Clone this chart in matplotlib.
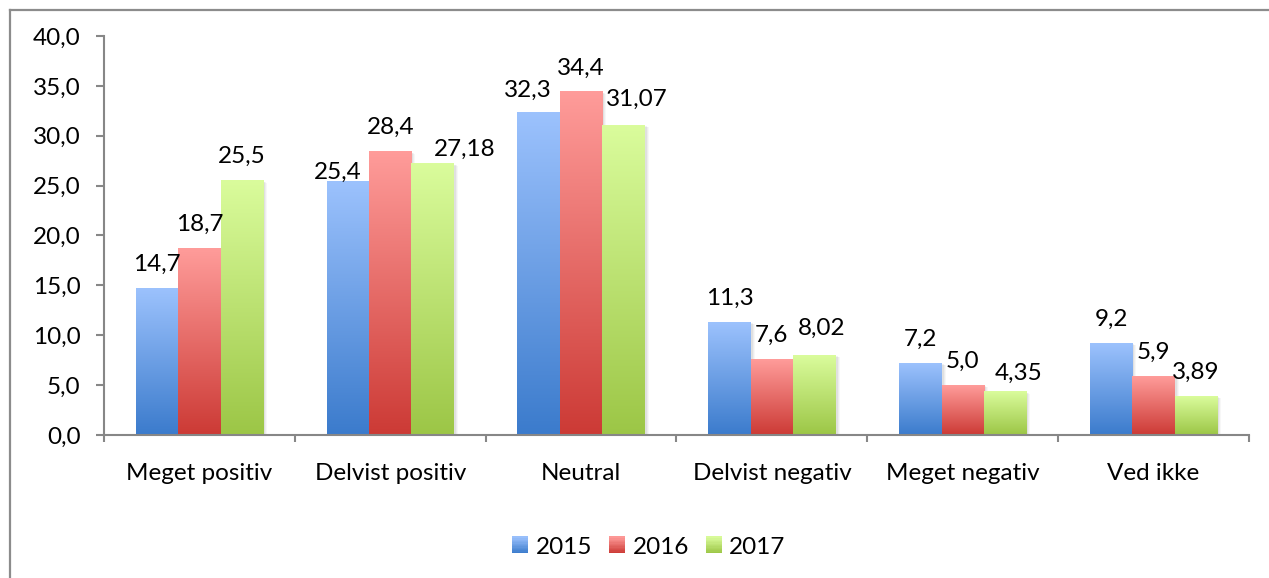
import numpy as np
import matplotlib
matplotlib.use("Agg")
import matplotlib.pyplot as plt
from matplotlib.colors import LinearSegmentedColormap
from matplotlib.patches import Rectangle
from matplotlib.lines import Line2D
from matplotlib.legend_handler import HandlerBase
from matplotlib.ticker import FuncFormatter
import matplotlib.transforms as mtransforms

plt.rcParams['font.family'] = ['Lato', 'DejaVu Sans']

categories = ['Meget positiv', 'Delvist positiv', 'Neutral', 'Delvist negativ', 'Meget negativ', 'Ved ikke']
years = ['2015', '2016', '2017']
v2015 = [14.7, 25.4, 32.3, 11.3, 7.2, 9.2]
v2016 = [18.7, 28.4, 34.4, 7.6, 5.0, 5.9]
v2017 = [25.5, 27.18, 31.07, 8.02, 4.35, 3.89]

series = [v2015, v2016, v2017]
label_fmt = ['{:.1f}', '{:.1f}', '{:g}']
# gradient (top, bottom) per series
grads = [('#9cc2fd', '#3b7bcc'), ('#ff9c9a', '#cc3a35'), ('#dafc9c', '#9cc646')]

# hand-placed labels (series, category) -> (dx px, baseline px above bar)
label_shift = {(0, 1): (-10, 3), (2, 1): (32, 8), (0, 2): (-11, 16),
               (2, 2): (13, 19), (2, 3): (7, 20), (2, 4): (13, 12)}

W, H = 1269, 578
fig = plt.figure(figsize=(W / 100, H / 100), dpi=100)
ax = fig.add_axes([104 / W, 1 - 435 / H, 1145 / W, 399 / H])

FS = 17.5
x = np.arange(len(categories))
bw = 1 / 4.5

for i, vals in enumerate(series):
    top, bot = grads[i]
    cmap = LinearSegmentedColormap.from_list('g%d' % i, [bot, top])
    bars = ax.bar(x + (i - 1) * bw, vals, bw, color='none', edgecolor='none', zorder=2)
    for j, b in enumerate(bars.patches):
        x0, w, h = b.get_x(), b.get_width(), b.get_height()
        # soft shadow
        for k, a in [(4, 0.03), (3, 0.04), (2, 0.05)]:
            off = mtransforms.ScaledTranslation(k / 100, -k / 200, fig.dpi_scale_trans)
            ax.add_patch(Rectangle((x0, 0), w, h, facecolor='black', alpha=a,
                                   edgecolor='none', transform=ax.transData + off, zorder=1))
        ax.imshow(np.linspace(0, 1, 256).reshape(-1, 1), cmap=cmap, origin='lower',
                  extent=(x0, x0 + w, 0, h), aspect='auto', zorder=2, interpolation='bilinear')
        dx, dy = label_shift.get((i, j), (0, 17.5))
        ax.annotate(label_fmt[i].format(vals[j]).replace('.', ','), (x0 + w / 2, h),
                    xytext=(dx, dy), textcoords='offset pixels', ha='center', va='baseline',
                    fontsize=FS, color='black', zorder=3)

ax.set_xlim(-0.5, len(categories) - 0.5)
ax.set_ylim(0, 40)
ax.set_aspect('auto')

ax.set_yticks(np.arange(0, 41, 5))
ax.yaxis.set_major_formatter(FuncFormatter(lambda v, p: ('%.1f' % v).replace('.', ',')))
ax.tick_params(axis='y', length=6, width=1.5, color='#878787', pad=11, labelsize=FS)

ax.set_xticks(np.arange(-0.5, len(categories)), labels=[''] * (len(categories) + 1))
ax.set_xticks(x, labels=categories, minor=True)
ax.tick_params(axis='x', which='major', length=5, width=1.5, color='#878787')
ax.tick_params(axis='x', which='minor', length=0, pad=20, labelsize=FS)

for s in ['top', 'right']:
    ax.spines[s].set_visible(False)
for s in ['left', 'bottom']:
    ax.spines[s].set_color('#878787')
    ax.spines[s].set_linewidth(1.5)


class GradHandler(HandlerBase):
    def __init__(self, top, bot):
        super().__init__()
        self.cmap = LinearSegmentedColormap.from_list('h', [bot, top])

    def create_artists(self, legend, orig_handle, xdescent, ydescent, width, height, fontsize, trans):
        n = 12
        arts = []
        for k in range(n):
            arts.append(Rectangle((-xdescent, -ydescent + height * k / n), width, height / n + 0.3,
                                  facecolor=self.cmap((k + 0.5) / n), edgecolor='none', transform=trans))
        return arts


handles = [Rectangle((0, 0), 1, 1) for _ in years]
ax.legend(handles, years, handler_map={h: GradHandler(*grads[i]) for i, h in enumerate(handles)},
          loc='center', bbox_to_anchor=(649 / W, 1 - 547 / H), bbox_transform=fig.transFigure,
          ncol=3, frameon=False, fontsize=FS, handlelength=0.66, handleheight=0.66,
          handletextpad=0.3, columnspacing=0.7)

# outer chart frame
fig.add_artist(Line2D([10 / W, 1], [1 - 10 / H, 1 - 10 / H], transform=fig.transFigure, color='#8c8c8c', lw=1.6))
fig.add_artist(Line2D([10 / W, 10 / W], [0, 1 - 10 / H], transform=fig.transFigure, color='#8c8c8c', lw=1.6))

fig.savefig('out.png', dpi=100)
